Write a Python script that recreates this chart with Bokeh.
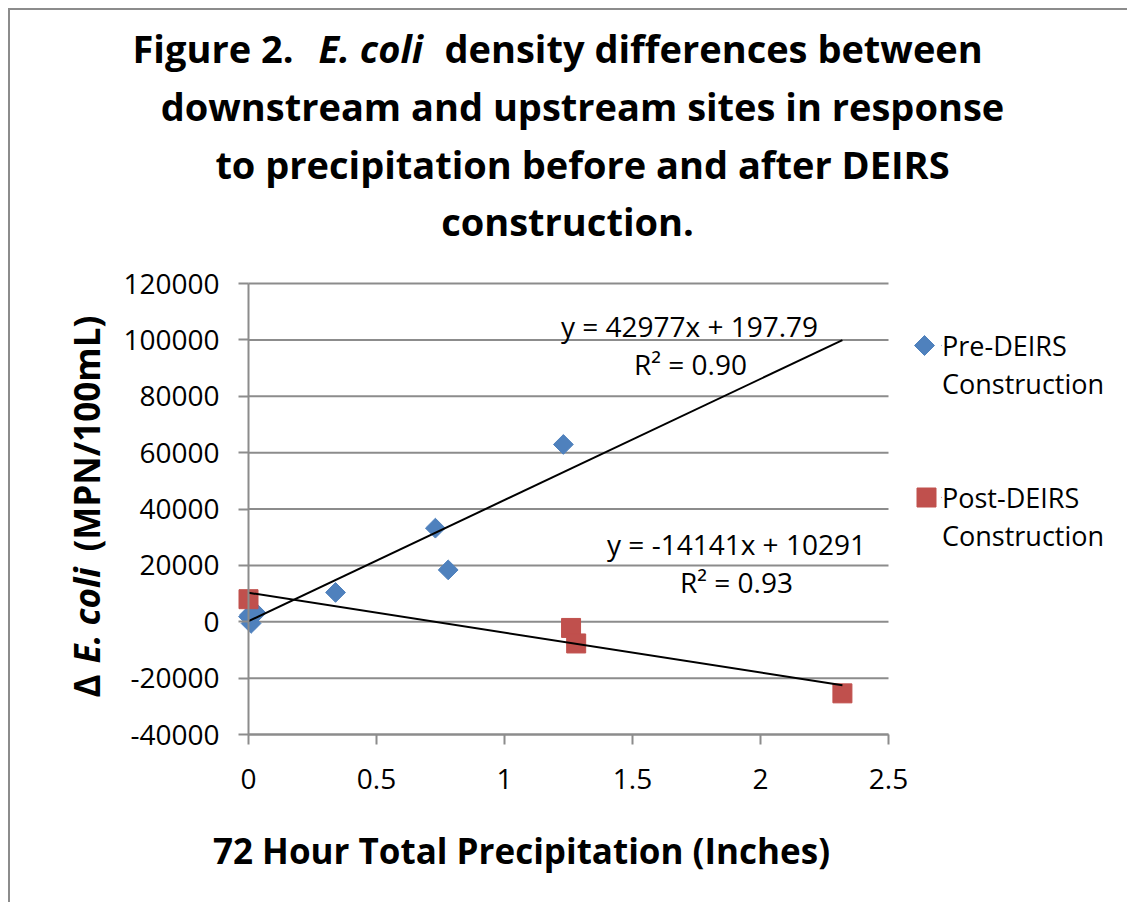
import numpy as np
from bokeh.plotting import figure
from bokeh.models import (Range1d, FixedTicker, Label, Legend, LegendItem, NumeralTickFormatter,
                          PolyAnnotation)
from bokeh.embed import file_html
from bokeh.resources import INLINE

# ---------------- data ----------------
pre_x = [0.0, 0.01, 0.03, 0.005, 0.34, 0.73, 0.78, 1.23]
pre_y = [1800, -600, 3100, 2500, 10400, 33200, 18400, 62900]
post_x = [0.0, 1.26, 1.28, 2.32]
post_y = [8000, -2200, -7700, -25400]

pre_slope, pre_intercept = 42977, 197.79
post_slope, post_intercept = -14141, 10291
trend_x = [0.0, 2.32]

x_ticks = [0, 0.5, 1, 1.5, 2, 2.5]
x_tick_labels = ["0", "0.5", "1", "1.5", "2", "2.5"]
y_ticks = [-40000, -20000, 0, 20000, 40000, 60000, 80000, 100000, 120000]

series_names = ["Pre-DEIRS", "Post-DEIRS"]
pre_eq = ["y = 42977x + 197.79", "R\u00b2 = 0.90"]
post_eq = ["y = -14141x + 10291", "R\u00b2 = 0.93"]

# ---------------- layout (page pixels) ----------------
FONT = "Open Sans"
GRAY = "#8c8c8c"
BLUE = "#4F81BD"
RED = "#C0504D"

W, H = 1119, 894           # figure size; placed at page (8, 8)
OX, OY = 8, 8              # page offset of the canvas
PX0, PX1 = 248, 888        # page x of x=0 and x=2.5
PY_TOP, PY_BOT = 283, 734  # page y of y=120000 and y=-40000

x_lo, x_hi = x_ticks[0], x_ticks[-1]
y_lo, y_hi = y_ticks[0], y_ticks[-1]
xs = (PX1 - PX0) / (x_hi - x_lo)
ys = (PY_BOT - PY_TOP) / (y_hi - y_lo)
x_start = x_lo - (PX0 - OX) / xs
x_end = x_lo + (OX + W - PX0) / xs
y_end = y_hi + (PY_TOP - OY) / ys
y_start = y_lo - (OY + H - PY_BOT) / ys

p = figure(width=W, height=H, output_backend="svg", toolbar_location=None,
           x_range=Range1d(x_start, x_end), y_range=Range1d(y_start, y_end),
           min_border=0)
p.border_fill_color = None
p.background_fill_color = None
p.outline_line_color = None
p.styles = {"margin-left": f"{OX}px", "margin-top": f"{OY}px",
            "box-shadow": "inset 2px 2px 0 0 #8c8c8c"}

def sx(px):
    return px - OX
def sy(py):
    return OY + H - py

# axes placed inside the (full-canvas) frame
for ax in (p.xaxis[0], p.yaxis[0]):
    ax.axis_line_color = GRAY
    ax.axis_line_width = 2
    ax.major_tick_line_color = GRAY
    ax.major_tick_line_width = 2
    ax.major_tick_out = 10
    ax.major_tick_in = 0
    ax.minor_tick_out = 0
    ax.minor_tick_in = 0
    ax.major_label_text_font = FONT
    ax.major_label_text_font_size = "28px"
    ax.major_label_text_color = "black"

p.xaxis.ticker = FixedTicker(ticks=x_ticks)
p.xaxis.major_label_overrides = {t: l for t, l in zip(x_ticks, x_tick_labels)}
p.xaxis.major_label_standoff = 24
p.xaxis.fixed_location = y_lo
p.xaxis.bounds = (x_lo, x_hi)
p.yaxis.ticker = FixedTicker(ticks=y_ticks)
p.yaxis.formatter = NumeralTickFormatter(format="0")
p.yaxis.major_label_standoff = 19
p.yaxis.fixed_location = x_lo
p.yaxis.bounds = (y_lo, y_hi)

p.xgrid.visible = False
p.ygrid.visible = False
# horizontal gridlines across the plot area
p.segment(x0=[x_lo] * len(y_ticks), x1=[x_hi] * len(y_ticks), y0=y_ticks, y1=y_ticks,
          line_color=GRAY, line_width=2)

# data
r_pre = p.scatter(pre_x, pre_y, marker="square", size=14, angle=np.pi / 4,
                  fill_color=BLUE, line_color=BLUE)
r_post = p.scatter(post_x, post_y, marker="square", size=19,
                   fill_color=RED, line_color=RED)
p.line(trend_x, [pre_slope * x + pre_intercept for x in trend_x], line_color="black", line_width=2)
p.line(trend_x, [post_slope * x + post_intercept for x in trend_x], line_color="black", line_width=2)
dummy = p.scatter(x=[np.nan], y=[np.nan], marker="square", size=1, fill_alpha=0, line_alpha=0)

# legends (text via Legend, marker symbols drawn as screen-space shapes)
def make_legend(r, name, top_py):
    lg = Legend(items=[LegendItem(label=name, renderers=[r]),
                       LegendItem(label="Construction", renderers=[dummy])],
                location=(sx(941), sy(top_py + 76)), orientation="vertical",
                margin=0, padding=0, spacing=0,
                glyph_width=1, glyph_height=38, label_height=38, label_standoff=0,
                label_text_font=FONT, label_text_font_size="27px", label_text_color="black",
                background_fill_alpha=0, border_line_alpha=0)
    p.add_layout(lg)

make_legend(r_pre, series_names[0], 326)
make_legend(r_post, series_names[1], 478)

cx, cy, r = 924, 345, 10
p.add_layout(PolyAnnotation(xs=[sx(cx), sx(cx + r), sx(cx), sx(cx - r)],
                            ys=[sy(cy - r), sy(cy), sy(cy + r), sy(cy)],
                            xs_units="screen", ys_units="screen",
                            fill_color=BLUE, fill_alpha=1, line_color=BLUE, line_alpha=1))
cx, cy, h = 926, 497, 9.5
p.add_layout(PolyAnnotation(xs=[sx(cx - h), sx(cx + h), sx(cx + h), sx(cx - h)],
                            ys=[sy(cy - h), sy(cy - h), sy(cy + h), sy(cy + h)],
                            xs_units="screen", ys_units="screen",
                            fill_color=RED, fill_alpha=1, line_color=RED, line_alpha=1))

# texts
def add_text(txt, px, py, size="28px", bold=False, italic=False, align="center",
             baseline="middle", angle=0.0):
    style = "normal"
    if bold and italic:
        style = "bold italic"
    elif bold:
        style = "bold"
    elif italic:
        style = "italic"
    p.add_layout(Label(x=sx(px), y=sy(py), x_units="screen", y_units="screen", text=txt,
                       text_font=FONT, text_font_size=size, text_font_style=style,
                       text_color="black", text_align=align, text_baseline=baseline,
                       angle=angle))

add_text(pre_eq[0], 689, 325)
add_text(pre_eq[1], 690, 363)
add_text(post_eq[0], 736, 543)
add_text(post_eq[1], 736, 581)

# title
TS = "38px"
add_text("Figure 2.", 132, 47, TS, bold=True, align="left")
add_text("E. coli", 318, 47, TS, bold=True, italic=True, align="left")
add_text("density differences between", 444, 47, TS, bold=True, align="left")
add_text("downstream and upstream sites in response", 582, 105, TS, bold=True)
add_text("to precipitation before and after DEIRS", 582, 163, TS, bold=True)
add_text("construction.", 567, 220, TS, bold=True)

# axis titles
AS = "35px"
add_text("72 Hour Total Precipitation (Inches)", 521, 850, AS, bold=True)
add_text("\u0394", 86, 697, AS, bold=True, align="left", angle=np.pi / 2)
add_text("E. coli", 86, 663, AS, bold=True, italic=True, align="left", angle=np.pi / 2)
add_text("(MPN/100mL)", 86, 551, AS, bold=True, align="left", angle=np.pi / 2)

open("out.html", "w").write(file_html(p, INLINE))
